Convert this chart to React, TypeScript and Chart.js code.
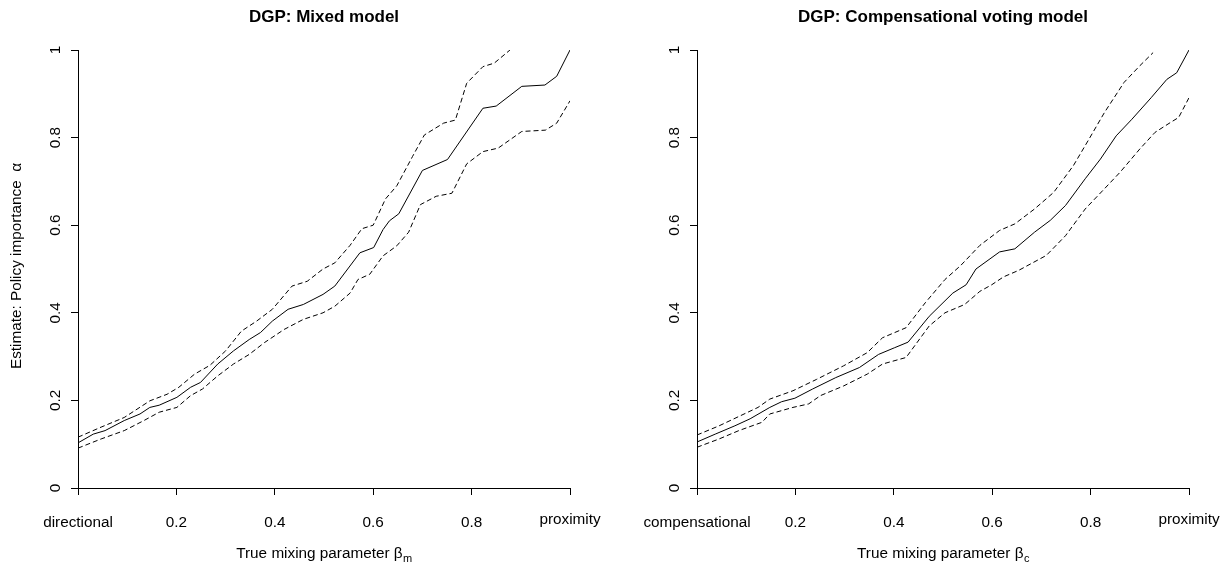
import React, { useEffect, useRef } from "react";
import { Chart, registerables } from "chart.js";

Chart.register(...registerables);

// ---------- Axis ticks and labels ----------
const xTickValues = [0, 0.2, 0.4, 0.6, 0.8, 1];
const yTickValues = [0, 0.2, 0.4, 0.6, 0.8, 1];
const leftXTickLabels = ["directional", "0.2", "0.4", "0.6", "0.8", "proximity"];
const rightXTickLabels = ["compensational", "0.2", "0.4", "0.6", "0.8", "proximity"];
const yTickLabels = ["0", "0.2", "0.4", "0.6", "0.8", "1"];

const leftTitle = "DGP: Mixed model";
const rightTitle = "DGP: Compensational voting model";
const yAxisTitle = "Estimate: Policy importance  α";
const xAxisTitleMain = "True mixing parameter β";
const leftXAxisSub = "m";
const rightXAxisSub = "c";

// ---------- Left panel: mixed model ----------
const mixedEstX = [0, 0.031, 0.055, 0.094, 0.126, 0.146, 0.165, 0.201, 0.229, 0.249, 0.284, 0.316, 0.348, 0.371, 0.395, 0.427, 0.458, 0.498, 0.522, 0.573, 0.601, 0.62, 0.633, 0.652, 0.7, 0.751, 0.823, 0.85, 0.902, 0.949, 0.973, 1.0];
const mixedEstY = [0.103, 0.123, 0.131, 0.154, 0.169, 0.184, 0.189, 0.207, 0.23, 0.241, 0.283, 0.313, 0.339, 0.355, 0.381, 0.408, 0.419, 0.442, 0.461, 0.537, 0.549, 0.59, 0.61, 0.626, 0.725, 0.75, 0.867, 0.872, 0.917, 0.92, 0.94, 1.0];

const mixedUpperX = [0, 0.047, 0.094, 0.146, 0.181, 0.205, 0.237, 0.268, 0.3, 0.332, 0.363, 0.395, 0.435, 0.466, 0.498, 0.522, 0.553, 0.577, 0.6, 0.625, 0.648, 0.68, 0.704, 0.743, 0.767, 0.79, 0.823, 0.846, 0.878];
const mixedUpperY = [0.116, 0.139, 0.161, 0.199, 0.214, 0.23, 0.26, 0.28, 0.313, 0.358, 0.381, 0.408, 0.461, 0.472, 0.5, 0.514, 0.554, 0.592, 0.6, 0.66, 0.69, 0.757, 0.806, 0.833, 0.84, 0.924, 0.962, 0.97, 1.0];

const mixedLowerX = [0, 0.047, 0.094, 0.134, 0.165, 0.201, 0.229, 0.253, 0.284, 0.316, 0.348, 0.379, 0.419, 0.458, 0.498, 0.522, 0.553, 0.569, 0.593, 0.62, 0.648, 0.672, 0.696, 0.728, 0.76, 0.79, 0.823, 0.854, 0.878, 0.902, 0.95, 0.973, 1.0];
const mixedLowerY = [0.091, 0.112, 0.131, 0.154, 0.173, 0.184, 0.211, 0.226, 0.256, 0.283, 0.305, 0.332, 0.362, 0.385, 0.4, 0.415, 0.445, 0.476, 0.488, 0.53, 0.553, 0.584, 0.647, 0.666, 0.673, 0.74, 0.768, 0.776, 0.795, 0.814, 0.817, 0.833, 0.884];

// ---------- Right panel: compensational voting model ----------
const compEstX = [0, 0.037, 0.077, 0.108, 0.148, 0.172, 0.199, 0.235, 0.282, 0.33, 0.369, 0.401, 0.429, 0.472, 0.52, 0.547, 0.567, 0.615, 0.646, 0.686, 0.718, 0.749, 0.789, 0.82, 0.852, 0.884, 0.923, 0.955, 0.975, 1.0];
const compEstY = [0.105, 0.123, 0.142, 0.158, 0.184, 0.197, 0.205, 0.226, 0.252, 0.275, 0.305, 0.32, 0.333, 0.392, 0.445, 0.464, 0.5, 0.539, 0.546, 0.584, 0.611, 0.645, 0.706, 0.751, 0.804, 0.842, 0.891, 0.933, 0.948, 1.0];

const compUpperX = [0, 0.045, 0.124, 0.148, 0.195, 0.243, 0.298, 0.346, 0.377, 0.425, 0.464, 0.504, 0.536, 0.575, 0.615, 0.646, 0.686, 0.725, 0.765, 0.797, 0.828, 0.868, 0.9, 0.927];
const compUpperY = [0.121, 0.142, 0.184, 0.203, 0.222, 0.248, 0.279, 0.309, 0.343, 0.366, 0.423, 0.476, 0.508, 0.554, 0.588, 0.603, 0.637, 0.675, 0.736, 0.797, 0.857, 0.926, 0.964, 0.994];

const compLowerX = [0, 0.045, 0.085, 0.132, 0.148, 0.195, 0.227, 0.251, 0.298, 0.346, 0.377, 0.425, 0.472, 0.504, 0.544, 0.575, 0.599, 0.623, 0.654, 0.71, 0.749, 0.789, 0.828, 0.86, 0.9, 0.931, 0.963, 0.979, 1.0];
const compLowerY = [0.093, 0.112, 0.131, 0.15, 0.169, 0.184, 0.192, 0.211, 0.233, 0.26, 0.283, 0.298, 0.37, 0.4, 0.419, 0.449, 0.464, 0.482, 0.497, 0.531, 0.576, 0.637, 0.683, 0.721, 0.774, 0.812, 0.835, 0.846, 0.891];

// ---------- Styling ----------
const FONT = '"Liberation Sans", Arial, Helvetica, sans-serif';
const TEXT_SIZE = 15.3;
const TITLE_SIZE = 17;

const pts = (xs: number[], ys: number[]) => xs.map((x, i) => ({ x, y: ys[i] }));

interface PanelProps {
  width: number;
  height: number;
  yAxisWidth: number;
  rightPad: number;
  title: string;
  xLabels: string[];
  xSub: string;
  showYTitle: boolean;
  est: { x: number; y: number }[];
  upper: { x: number; y: number }[];
  lower: { x: number; y: number }[];
}

function Panel(props: PanelProps) {
  const ref = useRef<HTMLCanvasElement | null>(null);

  useEffect(() => {
    const canvas = ref.current;
    if (!canvas) return;

    const textPlugin = {
      id: "rText",
      afterDraw(chart: any) {
        const ctx = chart.ctx as CanvasRenderingContext2D;
        const area = chart.chartArea;
        const xs = chart.scales.x;
        const ys = chart.scales.y;
        const cx = (area.left + area.right) / 2;
        ctx.save();
        ctx.fillStyle = "#000";

        // Title
        ctx.font = `bold ${TITLE_SIZE}px ${FONT}`;
        ctx.textAlign = "center";
        ctx.textBaseline = "alphabetic";
        ctx.fillText(props.title, cx, 21.5);

        // X tick labels
        ctx.font = `${TEXT_SIZE}px ${FONT}`;
        xs.ticks.forEach((t: any, i: number) => {
          const px = xs.getPixelForValue(t.value);
          const lift = i === xs.ticks.length - 1 ? 3 : 0;
          ctx.fillText(props.xLabels[i], px, area.bottom + 39 - lift);
        });

        // Y tick labels (rotated, R style)
        ys.ticks.forEach((t: any, i: number) => {
          const py = ys.getPixelForValue(t.value);
          ctx.save();
          ctx.translate(area.left - 18, py);
          ctx.rotate(-Math.PI / 2);
          ctx.textAlign = "center";
          ctx.fillText(yTickLabels[i], 0, 0);
          ctx.restore();
        });

        // X axis title with subscript
        const mainW = ctx.measureText(xAxisTitleMain).width;
        ctx.font = `${TEXT_SIZE * 0.72}px ${FONT}`;
        const subW = ctx.measureText(props.xSub).width;
        const startX = cx - (mainW + subW) / 2;
        ctx.textAlign = "left";
        ctx.fillText(props.xSub, startX + mainW + 0.5, 561.5);
        ctx.font = `${TEXT_SIZE}px ${FONT}`;
        ctx.fillText(xAxisTitleMain, startX, 557.5);

        // Y axis title
        if (props.showYTitle) {
          ctx.save();
          ctx.translate(20.5, 266);
          ctx.rotate(-Math.PI / 2);
          ctx.textAlign = "center";
          ctx.fillText(yAxisTitle, 0, 0);
          ctx.restore();
        }
        ctx.restore();
      },
    };

    const axisCommon = {
      type: "linear" as const,
      min: 0,
      max: 1,
      ticks: { display: false },
      grid: {
        display: true,
        drawOnChartArea: false,
        drawTicks: true,
        tickLength: 7,
        color: "#000",
        lineWidth: 1,
      },
      border: { display: true, color: "#000", width: 1 },
    };

    const chart = new Chart(canvas, {
      type: "line",
      data: {
        datasets: [
          { data: props.est, borderColor: "#000", borderWidth: 1, pointRadius: 0, tension: 0, fill: false },
          { data: props.upper, borderColor: "#000", borderWidth: 1, borderDash: [5, 3], pointRadius: 0, tension: 0, fill: false },
          { data: props.lower, borderColor: "#000", borderWidth: 1, borderDash: [5, 3], pointRadius: 0, tension: 0, fill: false },
        ],
      },
      options: {
        animation: false,
        responsive: false,
        devicePixelRatio: 1,
        layout: { padding: { top: 50, right: props.rightPad, left: 0, bottom: 0 } },
        plugins: { legend: { display: false }, tooltip: { enabled: false }, title: { display: false } },
        events: [],
        scales: {
          x: {
            ...axisCommon,
            afterBuildTicks: (s: any) => {
              s.ticks = xTickValues.map((v) => ({ value: v }));
            },
            afterFit: (s: any) => {
              s.height = props.height - 488;
            },
          },
          y: {
            ...axisCommon,
            afterBuildTicks: (s: any) => {
              s.ticks = yTickValues.map((v) => ({ value: v }));
            },
            afterFit: (s: any) => {
              s.width = props.yAxisWidth;
            },
          },
        },
      } as any,
      plugins: [textPlugin],
    });

    return () => chart.destroy();
  }, []);

  return <canvas ref={ref} width={props.width} height={props.height} style={{ display: "block", width: props.width, height: props.height }} />;
}

export default function App() {
  return (
    <div style={{ position: "fixed", left: 0, top: 0, width: 1221, height: 563, display: "flex", background: "#fff" }}>
      <Panel
        width={610}
        height={563}
        yAxisWidth={78}
        rightPad={40}
        title={leftTitle}
        xLabels={leftXTickLabels}
        xSub={leftXAxisSub}
        showYTitle={true}
        est={pts(mixedEstX, mixedEstY)}
        upper={pts(mixedUpperX, mixedUpperY)}
        lower={pts(mixedLowerX, mixedLowerY)}
      />
      <Panel
        width={611}
        height={563}
        yAxisWidth={87}
        rightPad={32}
        title={rightTitle}
        xLabels={rightXTickLabels}
        xSub={rightXAxisSub}
        showYTitle={false}
        est={pts(compEstX, compEstY)}
        upper={pts(compUpperX, compUpperY)}
        lower={pts(compLowerX, compLowerY)}
      />
    </div>
  );
}
